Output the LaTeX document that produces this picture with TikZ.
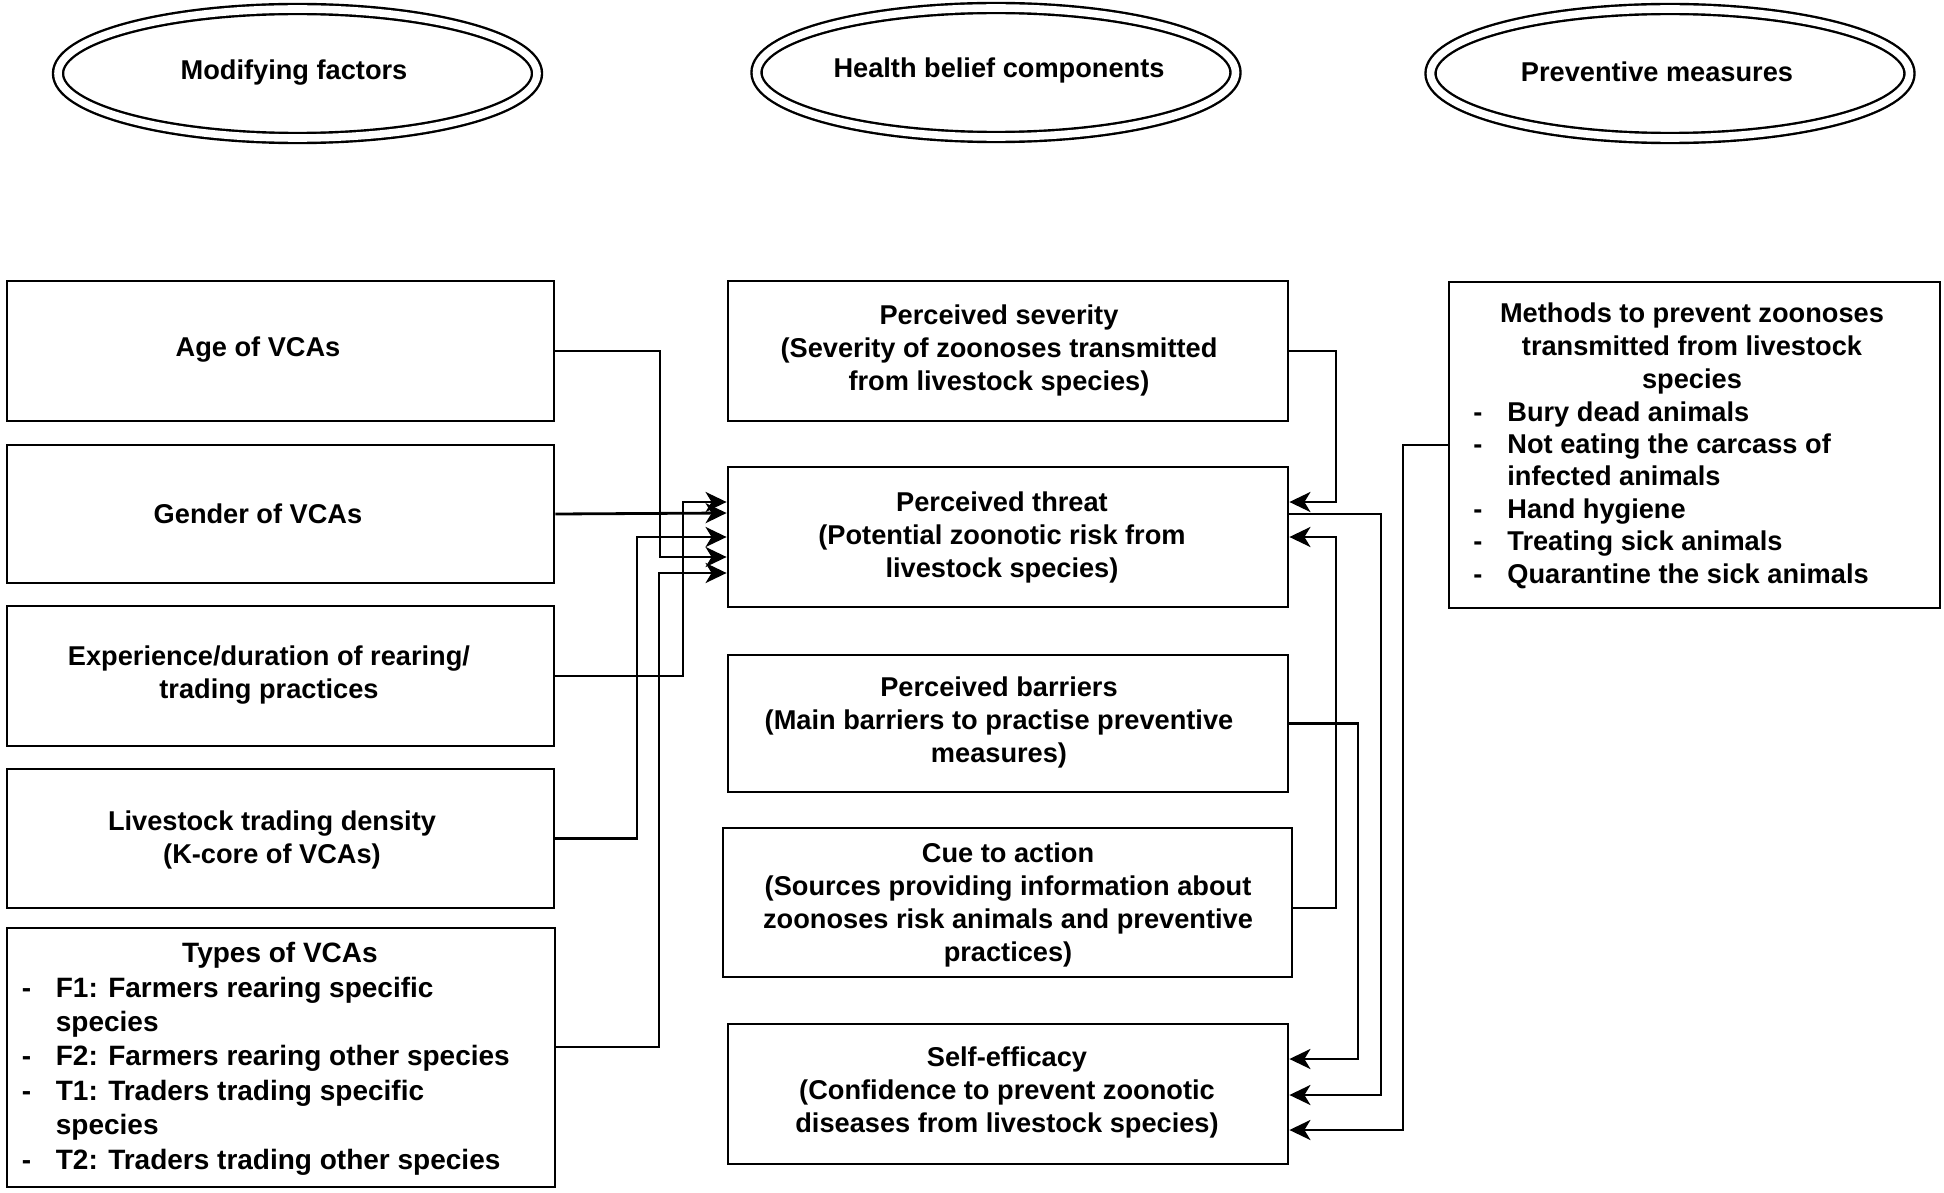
\documentclass[tikz,border=0pt]{standalone}
\usepackage{fontspec}
\setmainfont{Liberation Sans}
\usetikzlibrary{arrows.meta,shapes.geometric,fit}
\newcommand\lstdash{\makebox[17pt][l]{-}}
\newcommand\lstgap{\hspace*{17pt}}
\begin{document}
\begin{tikzpicture}[x=0.5pt,y=-0.5pt,
  box/.style={draw, line width=1.4pt, inner sep=0pt, rectangle},
  txt/.style={font=\fontsize{13.6}{16.5}\selectfont\bfseries, align=center, inner sep=0pt},
  lst/.style={font=\fontsize{13.6}{16.2}\selectfont\bfseries, align=left, inner sep=0pt, anchor=west},
  hdr/.style={draw, ellipse, double, line width=1.2pt, double distance=3.8pt,
    minimum width=239.5pt, minimum height=64.5pt, inner sep=0pt},
  conn/.style={line width=1.4pt},
  arr/.style={conn, -{Stealth[length=10.5pt,width=10pt,inset=3pt]}}]
\useasboundingbox (0,0) rectangle (1944,1193);

% header ellipses
\node[hdr] (hmod) at (297.5,73.5) {};
\node[hdr] (hhb) at (996,72.5) {};
\node[hdr] (hpm) at (1670,73.5) {};
\node[txt] (hmodT) at (294,73) {Modifying factors};
\node[txt] (hhbT) at (999,70) {Health belief components};
\node[txt] (hpmT) at (1657,72) {Preventive measures};

% left boxes
\node[box, fit={(7,281) (554,421)}] (age) {};
\node[box, fit={(7,445) (554,583)}] (gender) {};
\node[box, fit={(7,606) (554,746)}] (exper) {};
\node[box, fit={(7,769) (554,908)}] (livest) {};
\node[box, fit={(7,928) (555,1187)}] (types) {};

\node[txt] (ageT) at (258,350) {Age of VCAs};
\node[txt] (genderT) at (258,514) {Gender of VCAs};
\node[txt] (experT) at (269,675) {Experience/duration of rearing/\\trading practices};
\node[txt] (livestT) at (272,840) {Livestock trading density\\(K-core of VCAs)};
\node[txt, font=\fontsize{14}{17.2}\selectfont\bfseries] (typesT) at (280,955) {Types of VCAs};
\node[lst, font=\fontsize{14}{17.2}\selectfont\bfseries] (typesL) at (21.5,1076)
  {\lstdash F1: Farmers rearing specific\\
   \lstgap species\\
   \lstdash F2: Farmers rearing other species\\
   \lstdash T1: Traders trading specific\\
   \lstgap species\\
   \lstdash T2: Traders trading other species};

% middle boxes
\node[box, fit={(728,281) (1288,421)}] (sev) {};
\node[box, fit={(728,467) (1288,607)}] (threat) {};
\node[box, fit={(728,655) (1288,792)}] (barr) {};
\node[box, fit={(723,828) (1292,977)}] (cue) {};
\node[box, fit={(728,1024) (1288,1164)}] (selfe) {};

\node[txt] (sevT) at (999,350) {Perceived severity\\(Severity of zoonoses transmitted\\from livestock species)};
\node[txt] (threatT) at (1002,537) {Perceived threat\\(Potential zoonotic risk from\\livestock species)};
\node[txt] (barrT) at (999,722) {Perceived barriers\\(Main barriers to practise preventive\\measures)};
\node[txt] (cueT) at (1008,905) {Cue to action\\(Sources providing information about\\zoonoses risk animals and preventive\\practices)};
\node[txt] (selfeT) at (1007,1092) {Self-efficacy\\(Confidence to prevent zoonotic\\diseases from livestock species)};

% right box
\node[box, fit={(1449,282) (1940,608)}] (prev) {};
\node[txt] (prevT) at (1692,348) {Methods to prevent zoonoses\\transmitted from livestock\\species};
\node[lst] (prevL) at (1473,495)
  {\lstdash Bury dead animals\\
   \lstdash Not eating the carcass of\\
   \lstgap infected animals\\
   \lstdash Hand hygiene\\
   \lstdash Treating sick animals\\
   \lstdash Quarantine the sick animals};

% left connectors into perceived threat
\draw[arr] (age.east) -| (660,557) -- (threat.west |- 660,557);
\draw[arr] (gender.east) -- (threat.west |- 660,513);
\draw[arr] (exper.east) -| (683,502) -- (threat.west |- 683,502);
\draw[arr] (livest.east) -| (637,537) -- (threat.west |- 637,537);
\draw[arr] (types.east |- 555,1047) -| (659,573) -- (threat.west |- 659,573);

% right connectors
\draw[arr] (sev.east) -| (1336,502) -- (threat.east |- 1336,502);
\draw[arr] (cue.east |- 1292,908) -| (1336,537) -- (threat.east |- 1336,537);
\draw[arr] (threat.east |- 1288,514) -| (1381,1095) -- (selfe.east |- 1381,1095);
\draw[arr] (barr.east) -| (1358,1059) -- (selfe.east |- 1358,1059);
\draw[arr] (prev.west) -| (1403,1130) -- (selfe.east |- 1403,1130);
\end{tikzpicture}
\end{document}
